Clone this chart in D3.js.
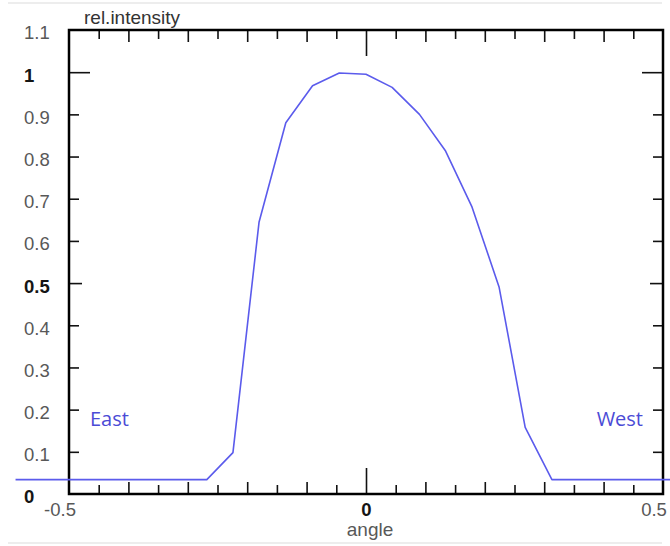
<!DOCTYPE html>
<html>
<head>
<meta charset="utf-8">
<script src="https://cdn.jsdelivr.net/npm/d3@7"></script>
<style>
  body { margin: 0; background: #fff; }
  svg { display: block; }
</style>
</head>
<body>
<svg id="chart"></svg>
<script>
// data
var angle     = [-0.59, -0.268, -0.224, -0.18, -0.135, -0.09, -0.045, 0, 0.044, 0.09, 0.134, 0.178, 0.224, 0.268, 0.313, 0.52];
var intensity = [0.034, 0.034, 0.098, 0.645, 0.880, 0.968, 0.998, 0.995, 0.964, 0.900, 0.813, 0.682, 0.491, 0.158, 0.034, 0.034];

var yTickValues = [0, 0.1, 0.2, 0.3, 0.4, 0.5, 0.6, 0.7, 0.8, 0.9, 1, 1.1];
var yBoldValues = [0, 0.5, 1];
var xLabelValues = [-0.5, 0, 0.5];
var sideLabels = ["East", "West"];

var W = 670, H = 546;
var LEFT = 69, RIGHT = 663, TOP = 30, BOTTOM = 494;
var LINE_COLOR = "#5b5bec";
var FONT = "'Liberation Sans', Arial, sans-serif";

var svg = d3.select("#chart")
    .attr("width", W)
    .attr("height", H);

var x = d3.scaleLinear().domain([-0.5, 0.5]).range([LEFT, RIGHT]);
var y = d3.scaleLinear().domain([0, 1.1]).range([BOTTOM, TOP]);

//faint page rules at top and bottom
svg.append("line")
    .attr("x1", 8).attr("x2", 662).attr("y1", 3).attr("y2", 3)
    .style("stroke", "#ededed").style("stroke-width", 2);
svg.append("line")
    .attr("x1", 8).attr("x2", 662).attr("y1", 543).attr("y2", 543)
    .style("stroke", "#ededed").style("stroke-width", 2);

//tick marks, all pointing into the frame
var minorX = d3.range(-0.45, 0.5, 0.1).map(function (d) { return +d.toFixed(2); });
var majorX = [-0.4, -0.3, -0.2, -0.1, 0.1, 0.2, 0.3, 0.4];

function xTicks(values, len) {
    svg.append("g")
        .attr("transform", "translate(0," + BOTTOM + ")")
        .call(d3.axisBottom(x).tickValues(values).tickSize(-len).tickFormat(""));
    svg.append("g")
        .attr("transform", "translate(0," + TOP + ")")
        .call(d3.axisTop(x).tickValues(values).tickSize(-len).tickFormat(""));
}
xTicks(minorX, 9);
xTicks(majorX, 12);
xTicks([0], 26);

function yTicks(values, len) {
    svg.append("g")
        .attr("transform", "translate(" + LEFT + ",0)")
        .call(d3.axisLeft(y).tickValues(values).tickSize(-len).tickFormat(""));
    svg.append("g")
        .attr("transform", "translate(" + RIGHT + ",0)")
        .call(d3.axisRight(y).tickValues(values).tickSize(-len).tickFormat(""));
}
yTicks([0.1, 0.2, 0.3, 0.4, 0.6, 0.7, 0.8, 0.9], 10);
yTicks([0.5], 13);
yTicks([1], 21);

svg.selectAll(".domain").remove();
svg.selectAll(".tick line")
    .style("stroke", "#111")
    .style("stroke-width", 1.6);

//frame
svg.append("rect")
    .attr("x", LEFT).attr("y", TOP)
    .attr("width", RIGHT - LEFT).attr("height", BOTTOM - TOP)
    .style("fill", "none")
    .style("stroke", "#000")
    .style("stroke-width", 2.5);

//curve (not clipped, runs past the frame like the original)
var line = d3.line()
    .x(function (d, i) { return x(angle[i]); })
    .y(function (d) { return y(d); });
svg.append("path")
    .datum(intensity)
    .attr("d", line)
    .style("fill", "none")
    .style("stroke", LINE_COLOR)
    .style("stroke-width", 1.6)
    .style("stroke-linejoin", "round");

//y labels, left aligned
svg.selectAll(".ylab")
    .data(yTickValues)
    .enter().append("text")
    .attr("class", "ylab")
    .attr("x", 24)
    .attr("y", function (d) { return y(d) + 3; })
    .attr("dy", "0.35em")
    .style("font-family", FONT)
    .style("font-size", "18.5px")
    .style("font-weight", function (d) { return yBoldValues.indexOf(d) >= 0 ? "bold" : "normal"; })
    .style("fill", function (d) { return yBoldValues.indexOf(d) >= 0 ? "#151515" : "#585858"; })
    .text(function (d) { return d; });

//x labels
svg.selectAll(".xlab")
    .data(xLabelValues)
    .enter().append("text")
    .attr("class", "xlab")
    .attr("x", function (d) { return x(d) + (d === 0 ? 0.5 : -9); })
    .attr("y", 516)
    .style("text-anchor", "middle")
    .style("font-family", FONT)
    .style("font-size", "18.5px")
    .style("font-weight", function (d) { return d === 0 ? "bold" : "normal"; })
    .style("fill", function (d) { return d === 0 ? "#151515" : "#585858"; })
    .text(function (d) { return d; });

//axis titles
svg.append("text")
    .attr("x", 84)
    .attr("y", 24)
    .style("font-family", FONT)
    .style("font-size", "19px")
    .style("fill", "#333")
    .text("rel.intensity");
svg.append("text")
    .attr("x", 370)
    .attr("y", 536)
    .style("text-anchor", "middle")
    .style("font-family", FONT)
    .style("font-size", "19px")
    .style("fill", "#585858")
    .text("angle");

//East / West
svg.selectAll(".side")
    .data(sideLabels)
    .enter().append("text")
    .attr("class", "side")
    .attr("x", function (d, i) { return i === 0 ? 90 : 643; })
    .attr("y", 426)
    .style("text-anchor", function (d, i) { return i === 0 ? "start" : "end"; })
    .style("font-family", "'Open Sans', 'Noto Sans', sans-serif")
    .style("font-size", "20px")
    .style("fill", "#4b4bd6")
    .text(function (d) { return d; });
</script>
</body>
</html>
